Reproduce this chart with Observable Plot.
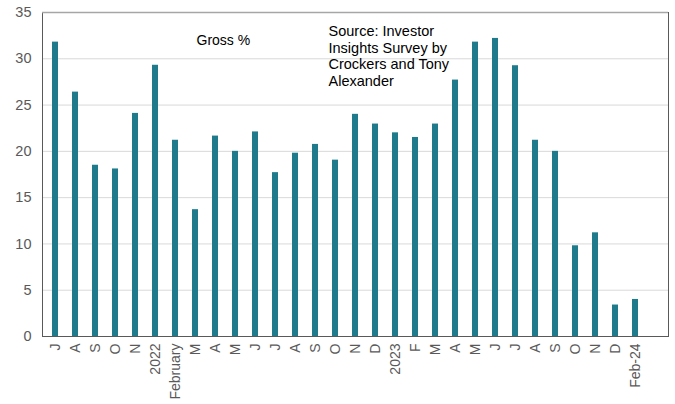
<!DOCTYPE html>
<html>
<head>
<meta charset="utf-8">
<script src="https://cdn.jsdelivr.net/npm/d3@7"></script>
<script src="https://cdn.jsdelivr.net/npm/@observablehq/plot@0.6"></script>
<style>
  html, body { margin: 0; padding: 0; background: #fff; }
</style>
</head>
<body>
<div id="chart"></div>
<script>
const months = ["2021-07","2021-08","2021-09","2021-10","2021-11","2022-01","2022-02","2022-03","2022-04","2022-05","2022-06","2022-07","2022-08","2022-09","2022-10","2022-11","2022-12","2023-01","2023-02","2023-03","2023-04","2023-05","2023-06","2023-07","2023-08","2023-09","2023-10","2023-11","2023-12","2024-02","pad"];
const tickLabels = ["J","A","S","O","N","2022","February","M","A","M","J","J","A","S","O","N","D","2023","F","M","A","M","J","J","A","S","O","N","D","Feb-24",""];
const grossPct = [31.8,26.4,18.5,18.1,24.1,29.3,21.2,13.7,21.65,20.0,22.1,17.7,19.8,20.75,19.05,24.0,22.95,22.0,21.5,22.95,27.7,31.8,32.2,29.25,21.2,20.0,9.8,11.2,3.4,4.0];
const yTicks = [0,5,10,15,20,25,30,35];
const seriesLabel = "Gross %";
const sourceNote = "Source: Investor\nInsights Survey by\nCrockers and Tony\nAlexander";

const labelOf = new Map(months.map((m, i) => [m, tickLabels[i]]));
const data = grossPct.map((v, i) => ({month: months[i], value: v}));

const chart = Plot.plot({
  width: 675,
  height: 404,
  marginLeft: 42,
  marginRight: 7,
  marginTop: 12,
  marginBottom: 68,
  style: {fontFamily: "'Liberation Sans', Arial, sans-serif", fontSize: "14px", color: "#595959", background: "#fff"},
  x: {domain: months, paddingInner: 0.7, paddingOuter: 0.35, label: null},
  y: {domain: [0, 35], label: null},
  marks: [
    Plot.gridY(yTicks, {stroke: "#d9d9d9", strokeOpacity: 1}),
    Plot.barY(data, {x: "month", y: "value", fill: "#1F7A8C"}),
    Plot.frame({stroke: "#595959"}),
    Plot.ruleY([35], {stroke: "#a6a6a6", strokeWidth: 1.5}),
    Plot.axisX({tickSize: 0, tickPadding: 7, tickRotate: -90, tickFormat: d => labelOf.get(d), label: null, fontSize: 14}),
    Plot.axisY(yTicks, {tickSize: 0, tickPadding: 11, label: null, fontSize: 14.5}),
    Plot.text([seriesLabel], {frameAnchor: "top-left", dx: 154, dy: 23, lineAnchor: "top", textAnchor: "start", fill: "#000", fontSize: 14}),
    Plot.text([sourceNote], {frameAnchor: "top-left", dx: 286, dy: 11.5, lineAnchor: "top", textAnchor: "start", fill: "#000", fontSize: 14.5, lineHeight: 1.15})
  ]
});
document.getElementById("chart").appendChild(chart);
</script>
</body>
</html>
